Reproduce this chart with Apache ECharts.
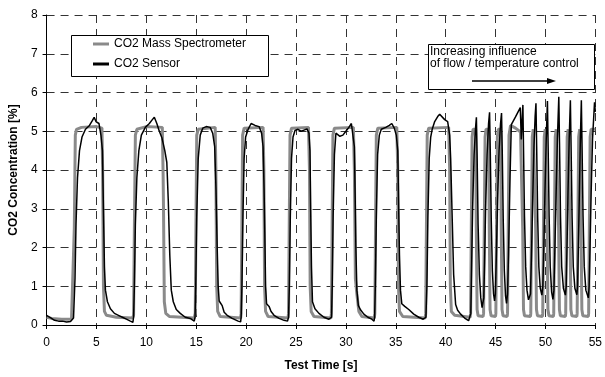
<!DOCTYPE html>
<html>
<head>
<meta charset="utf-8">
<script src="https://cdn.jsdelivr.net/npm/echarts@6/dist/echarts.min.js"></script>
<style>
html, body { margin: 0; padding: 0; background: #fff; }
#chart { width: 605px; height: 377px; }
</style>
</head>
<body>
<div id="chart"></div>
<script>
var seriesNames = ['CO2 Mass Spectrometer', 'CO2 Sensor'];

// [time s, CO2 %]
var massSpecData = [
	[0,0.2],[0.5,0.17],[1.5,0.15],[2.5,0.15],[2.7,0.2],[2.78,2.5],[2.88,4.9],[3.0,5.05],[3.5,5.1],[5.0,5.12],[5.55,5.08],[5.62,4.0],[5.7,1.0],[5.8,0.35],[6.0,0.25],[7,0.2],[8.6,0.18],
	[8.72,0.25],[8.8,2.5],[8.9,4.9],[9.05,5.05],[10,5.12],[11.6,5.1],[11.68,3.9],[11.72,3.0],[11.8,0.6],[11.95,0.3],[12.3,0.22],[14.8,0.18],
	[14.9,0.3],[14.97,2.5],[15.05,4.9],[15.2,5.05],[16.9,5.1],[16.97,4.0],[17.05,1.0],[17.15,0.35],[17.4,0.22],[19.45,0.18],
	[19.5,0.3],[19.57,2.5],[19.65,4.9],[19.8,5.08],[21.7,5.1],[21.78,4.0],[21.85,1.0],[21.95,0.35],[22.2,0.22],[24.2,0.18],
	[24.25,0.3],[24.32,2.5],[24.4,4.9],[24.55,5.08],[26.25,5.1],[26.35,4.0],[26.42,1.0],[26.52,0.35],[26.8,0.22],[28.5,0.18],
	[28.55,0.3],[28.62,2.5],[28.7,4.9],[28.85,5.08],[30.75,5.1],[30.85,4.0],[30.95,1.2],[31.1,0.8],[31.3,0.35],[31.6,0.22],[32.85,0.18],
	[32.9,0.3],[32.97,2.5],[33.05,4.9],[33.2,5.08],[35.1,5.1],[35.2,4.0],[35.27,1.0],[35.37,0.35],[35.7,0.22],[37.95,0.18],
	[38.0,0.3],[38.07,2.5],[38.15,4.9],[38.3,5.08],[40.3,5.1],[40.4,4.0],[40.47,1.0],[40.57,0.35],[40.9,0.25],[42.45,0.2],
	[42.5,0.3],[42.57,2.5],[42.65,4.85],[42.75,5.05],[43.0,5.05],[43.07,2.5],[43.15,0.4],[43.25,0.24],[43.75,0.22],
	[43.8,0.3],[43.87,2.5],[43.95,4.85],[44.05,5.05],[44.3,5.05],[44.37,2.5],[44.45,0.4],[44.55,0.24],[45.0,0.22],
	[45.03,0.3],[45.1,2.5],[45.18,4.85],[45.28,5.05],[45.5,5.05],[45.57,2.5],[45.65,0.4],[45.75,0.24],[46.17,0.22],
	[46.2,0.3],[46.27,2.5],[46.35,4.9],[46.5,5.15],[47.0,5.08],[47.5,4.98],[47.65,4.95],[47.72,2.5],[47.8,0.4],[47.9,0.24],[48.5,0.22],
	[48.53,0.3],[48.6,2.5],[48.68,4.85],[48.78,5.05],[48.95,5.05],[49.02,2.5],[49.1,0.4],[49.2,0.24],[49.7,0.22],
	[49.73,0.3],[49.8,2.5],[49.88,4.85],[49.98,5.05],[50.1,5.05],[50.17,2.5],[50.25,0.4],[50.35,0.24],[50.8,0.22],
	[50.83,0.3],[50.9,2.5],[50.98,4.85],[51.08,5.05],[51.25,5.05],[51.32,2.5],[51.4,0.4],[51.5,0.24],[52.0,0.22],
	[52.03,0.3],[52.1,2.5],[52.18,4.85],[52.28,5.05],[52.4,5.05],[52.47,2.5],[52.55,0.4],[52.65,0.24],[53.15,0.22],
	[53.18,0.3],[53.25,2.5],[53.33,4.85],[53.43,5.05],[53.5,5.05],[53.57,2.5],[53.65,0.4],[53.75,0.24],[54.3,0.22],
	[54.33,0.3],[54.4,2.5],[54.48,4.85],[54.58,5.05],[55,5.05]
];

var sensorData = [
	[0,0.25],[0.2,0.2],[0.5,0.17],[0.8,0.12],[1.2,0.1],[1.6,0.1],[2.0,0.08],[2.4,0.09],[2.6,0.07],[2.7,0.18],[2.78,0.2],
	[2.85,1.2],[2.95,2.6],[3.1,3.8],[3.3,4.5],[3.55,4.85],[3.9,5.05],[4.3,5.15],[4.6,5.28],[4.77,5.36],[4.95,5.25],[5.25,5.2],[5.45,4.9],[5.6,4.5],[5.7,3.0],[5.8,1.5],[5.9,0.9],[6.1,0.6],[6.4,0.42],[6.8,0.3],[7.2,0.25],[7.6,0.2],[8.0,0.15],[8.4,0.1],[8.65,0.07],[8.72,0.2],
	[8.8,1.0],[8.9,2.6],[9.05,3.8],[9.25,4.5],[9.5,4.9],[9.9,5.1],[10.3,5.2],[10.6,5.3],[10.8,5.36],[11.05,5.2],[11.3,5.0],[11.55,4.84],[11.85,4.5],[12.05,4.2],[12.2,3.2],[12.35,1.8],[12.5,0.9],[12.7,0.6],[13.0,0.4],[13.4,0.3],[13.9,0.2],[14.4,0.17],[14.8,0.1],[14.88,0.2],
	[14.95,1.0],[15.05,2.8],[15.2,4.3],[15.4,4.9],[15.65,5.08],[16.0,5.12],[16.4,5.1],[16.65,4.95],[16.85,4.6],[16.98,3.5],[17.1,2.0],[17.2,1.0],[17.3,0.62],[17.45,0.6],[17.6,0.5],[17.8,0.33],[18.1,0.25],[18.6,0.17],[19.2,0.1],[19.45,0.08],[19.5,0.2],
	[19.58,1.0],[19.68,2.8],[19.8,4.3],[19.95,4.85],[20.2,5.05],[20.5,5.2],[20.9,5.15],[21.3,5.12],[21.55,4.95],[21.7,4.6],[21.8,3.5],[21.87,2.4],[21.95,1.0],[22.05,0.55],[22.3,0.48],[22.5,0.35],[22.8,0.25],[23.3,0.17],[23.8,0.12],[24.15,0.1],[24.25,0.2],
	[24.33,1.0],[24.43,2.8],[24.55,4.3],[24.7,4.85],[24.9,5.02],[25.2,5.05],[25.5,5.0],[25.8,5.03],[26.1,5.06],[26.3,4.95],[26.4,4.5],[26.47,3.0],[26.55,1.5],[26.65,0.6],[26.9,0.42],[27.3,0.3],[27.8,0.2],[28.3,0.15],[28.5,0.1],[28.56,0.2],
	[28.63,1.0],[28.72,2.8],[28.85,4.4],[29.0,4.95],[29.15,5.0],[29.4,4.87],[29.7,4.9],[30.0,5.0],[30.3,5.1],[30.55,5.2],[30.75,5.15],[30.85,4.6],[30.93,3.3],[31.0,2.0],[31.1,0.9],[31.25,0.5],[31.5,0.38],[31.8,0.28],[32.2,0.2],[32.6,0.15],[32.82,0.1],[32.88,0.2],
	[32.95,1.0],[33.05,2.8],[33.18,4.4],[33.35,4.9],[33.55,5.05],[34.0,5.1],[34.35,5.15],[34.6,5.2],[34.85,5.08],[35.05,4.9],[35.2,4.5],[35.28,3.2],[35.37,1.8],[35.47,0.9],[35.6,0.55],[35.9,0.48],[36.3,0.4],[36.8,0.28],[37.3,0.2],[37.75,0.15],[37.95,0.1],[38.02,0.2],
	[38.12,1.0],[38.22,2.8],[38.35,4.3],[38.5,4.85],[38.65,5.05],[38.9,5.25],[39.2,5.38],[39.4,5.44],[39.6,5.4],[39.9,5.3],[40.2,5.25],[40.4,4.9],[40.5,4.3],[40.63,3.0],[40.8,1.3],[41.0,0.53],[41.2,0.38],[41.5,0.28],[41.9,0.18],[42.3,0.11],[42.45,0.12],[42.52,0.3],
	[42.6,1.5],[42.7,3.0],[42.85,4.4],[43.0,5.1],[43.08,5.36],[43.15,4.4],[43.25,2.6],[43.38,1.3],[43.52,0.7],[43.65,0.45],[43.74,0.4],
	[43.82,0.7],[43.9,1.6],[44.0,3.0],[44.15,4.4],[44.3,5.2],[44.4,5.49],[44.47,4.5],[44.57,2.7],[44.68,1.4],[44.8,0.8],[44.9,0.62],
	[44.98,0.8],[45.08,1.8],[45.2,3.2],[45.35,4.5],[45.5,5.2],[45.6,5.47],[45.67,4.5],[45.77,2.7],[45.88,1.4],[46.0,0.75],[46.1,0.56],
	[46.2,0.8],[46.3,1.8],[46.45,3.8],[46.58,5.17],[47.0,5.37],[47.48,5.61],[47.58,4.79],[47.65,5.2],[47.74,5.68],[47.8,4.6],[47.9,2.8],[48.02,1.5],[48.15,0.9],[48.3,0.65],[48.4,0.62],
	[48.5,0.8],[48.6,1.8],[48.72,3.2],[48.85,4.6],[48.97,5.4],[49.05,5.72],[49.12,4.6],[49.22,2.8],[49.34,1.5],[49.48,0.95],[49.64,0.77],
	[49.74,1.0],[49.84,2.0],[49.95,3.4],[50.08,4.8],[50.2,5.78],[50.27,4.6],[50.37,2.8],[50.48,1.5],[50.62,0.85],[50.75,0.66],
	[50.85,0.9],[50.95,2.0],[51.07,3.4],[51.2,4.8],[51.34,5.89],[51.41,4.7],[51.51,2.8],[51.63,1.5],[51.8,0.95],[52.0,0.77],
	[52.08,1.0],[52.16,2.0],[52.26,3.4],[52.38,4.8],[52.5,5.8],[52.57,4.6],[52.67,2.8],[52.79,1.5],[52.95,0.95],[53.15,0.78],
	[53.22,1.0],[53.3,2.0],[53.4,3.4],[53.5,4.8],[53.6,5.8],[53.67,4.6],[53.77,2.8],[53.89,1.5],[54.05,0.9],[54.3,0.7],
	[54.38,1.0],[54.47,2.0],[54.58,3.4],[54.72,4.8],[54.92,5.75],[55,5.5]
];

var noteLines = ['Increasing influence', 'of flow / temperature control'];

var dom = document.getElementById('chart');
var myChart = echarts.init(dom, null, { renderer: 'canvas' });

var font = 'Liberation Sans, Arial, sans-serif';
var gridDash = { color: '#333', width: 1, type: [8, 6] };

var option = {
	animation: false,
	backgroundColor: '#fff',
	textStyle: { fontFamily: font, color: '#000' },
	grid: { left: 41, right: 4, top: 15, bottom: 46 },
	legend: {
		orient: 'vertical',
		left: 93,
		top: 37,
		padding: 0,
		z: 10,
		icon: 'rect',
		itemWidth: 16,
		itemHeight: 3,
		itemGap: 6,
		textStyle: { fontSize: 12, color: '#000', fontFamily: font, lineHeight: 14 },
		data: [
			{ name: seriesNames[0], itemStyle: { color: '#8a8a8a' } },
			{ name: seriesNames[1], itemStyle: { color: '#000' } }
		]
	},
	xAxis: {
		type: 'value',
		min: 0,
		max: 55,
		interval: 5,
		name: 'Test Time [s]',
		nameLocation: 'middle',
		nameGap: 35,
		nameTextStyle: { fontWeight: 'bold', fontSize: 12, color: '#000' },
		axisLine: { lineStyle: { color: '#000', width: 1 } },
		axisTick: { show: true, inside: false, length: 4, lineStyle: { color: '#000' } },
		axisLabel: { fontSize: 12, color: '#000', margin: 12 },
		splitLine: { show: true, lineStyle: gridDash }
	},
	yAxis: {
		type: 'value',
		min: 0,
		max: 8,
		interval: 1,
		name: 'CO2 Concentration [%]',
		nameLocation: 'middle',
		nameGap: 16,
		nameTextStyle: { fontWeight: 'bold', fontSize: 12, color: '#000' },
		axisLine: { show: true, lineStyle: { color: '#000', width: 1 } },
		axisTick: { show: true, inside: false, length: 4, lineStyle: { color: '#000' } },
		axisLabel: { fontSize: 12, color: '#000', margin: 9 },
		splitLine: { show: true, lineStyle: gridDash }
	},
	graphic: [
		{
			type: 'rect', left: 71, top: 35, z: 1,
			shape: { width: 197, height: 41 },
			style: { fill: '#fff', stroke: '#000', lineWidth: 1 }
		},
		{
			type: 'rect', left: 428, top: 44, z: 1,
			shape: { width: 166, height: 45 },
			style: { fill: '#fff', stroke: '#000', lineWidth: 1 }
		},
		{
			type: 'text', left: 430, top: 46, z: 5,
			style: { text: noteLines.join('\n'), fontSize: 12, lineHeight: 12, fill: '#000', fontFamily: font }
		},
		{
			type: 'line', z: 5,
			shape: { x1: 472, y1: 81, x2: 549, y2: 81 },
			style: { stroke: '#000', lineWidth: 1.5 }
		},
		{
			type: 'polygon', z: 5,
			shape: { points: [[547, 78], [556, 81], [547, 84]] },
			style: { fill: '#000' }
		}
	],
	series: [
		{
			name: seriesNames[0],
			type: 'line',
			showSymbol: false,
			symbol: 'none',
			z: 2,
			color: '#8a8a8a',
			lineStyle: { color: '#8a8a8a', width: 3 },
			data: massSpecData
		},
		{
			name: seriesNames[1],
			type: 'line',
			showSymbol: false,
			symbol: 'none',
			z: 3,
			color: '#000',
			lineStyle: { color: '#000', width: 1.5 },
			data: sensorData
		}
	]
};

myChart.setOption(option, true);
</script>
</body>
</html>
